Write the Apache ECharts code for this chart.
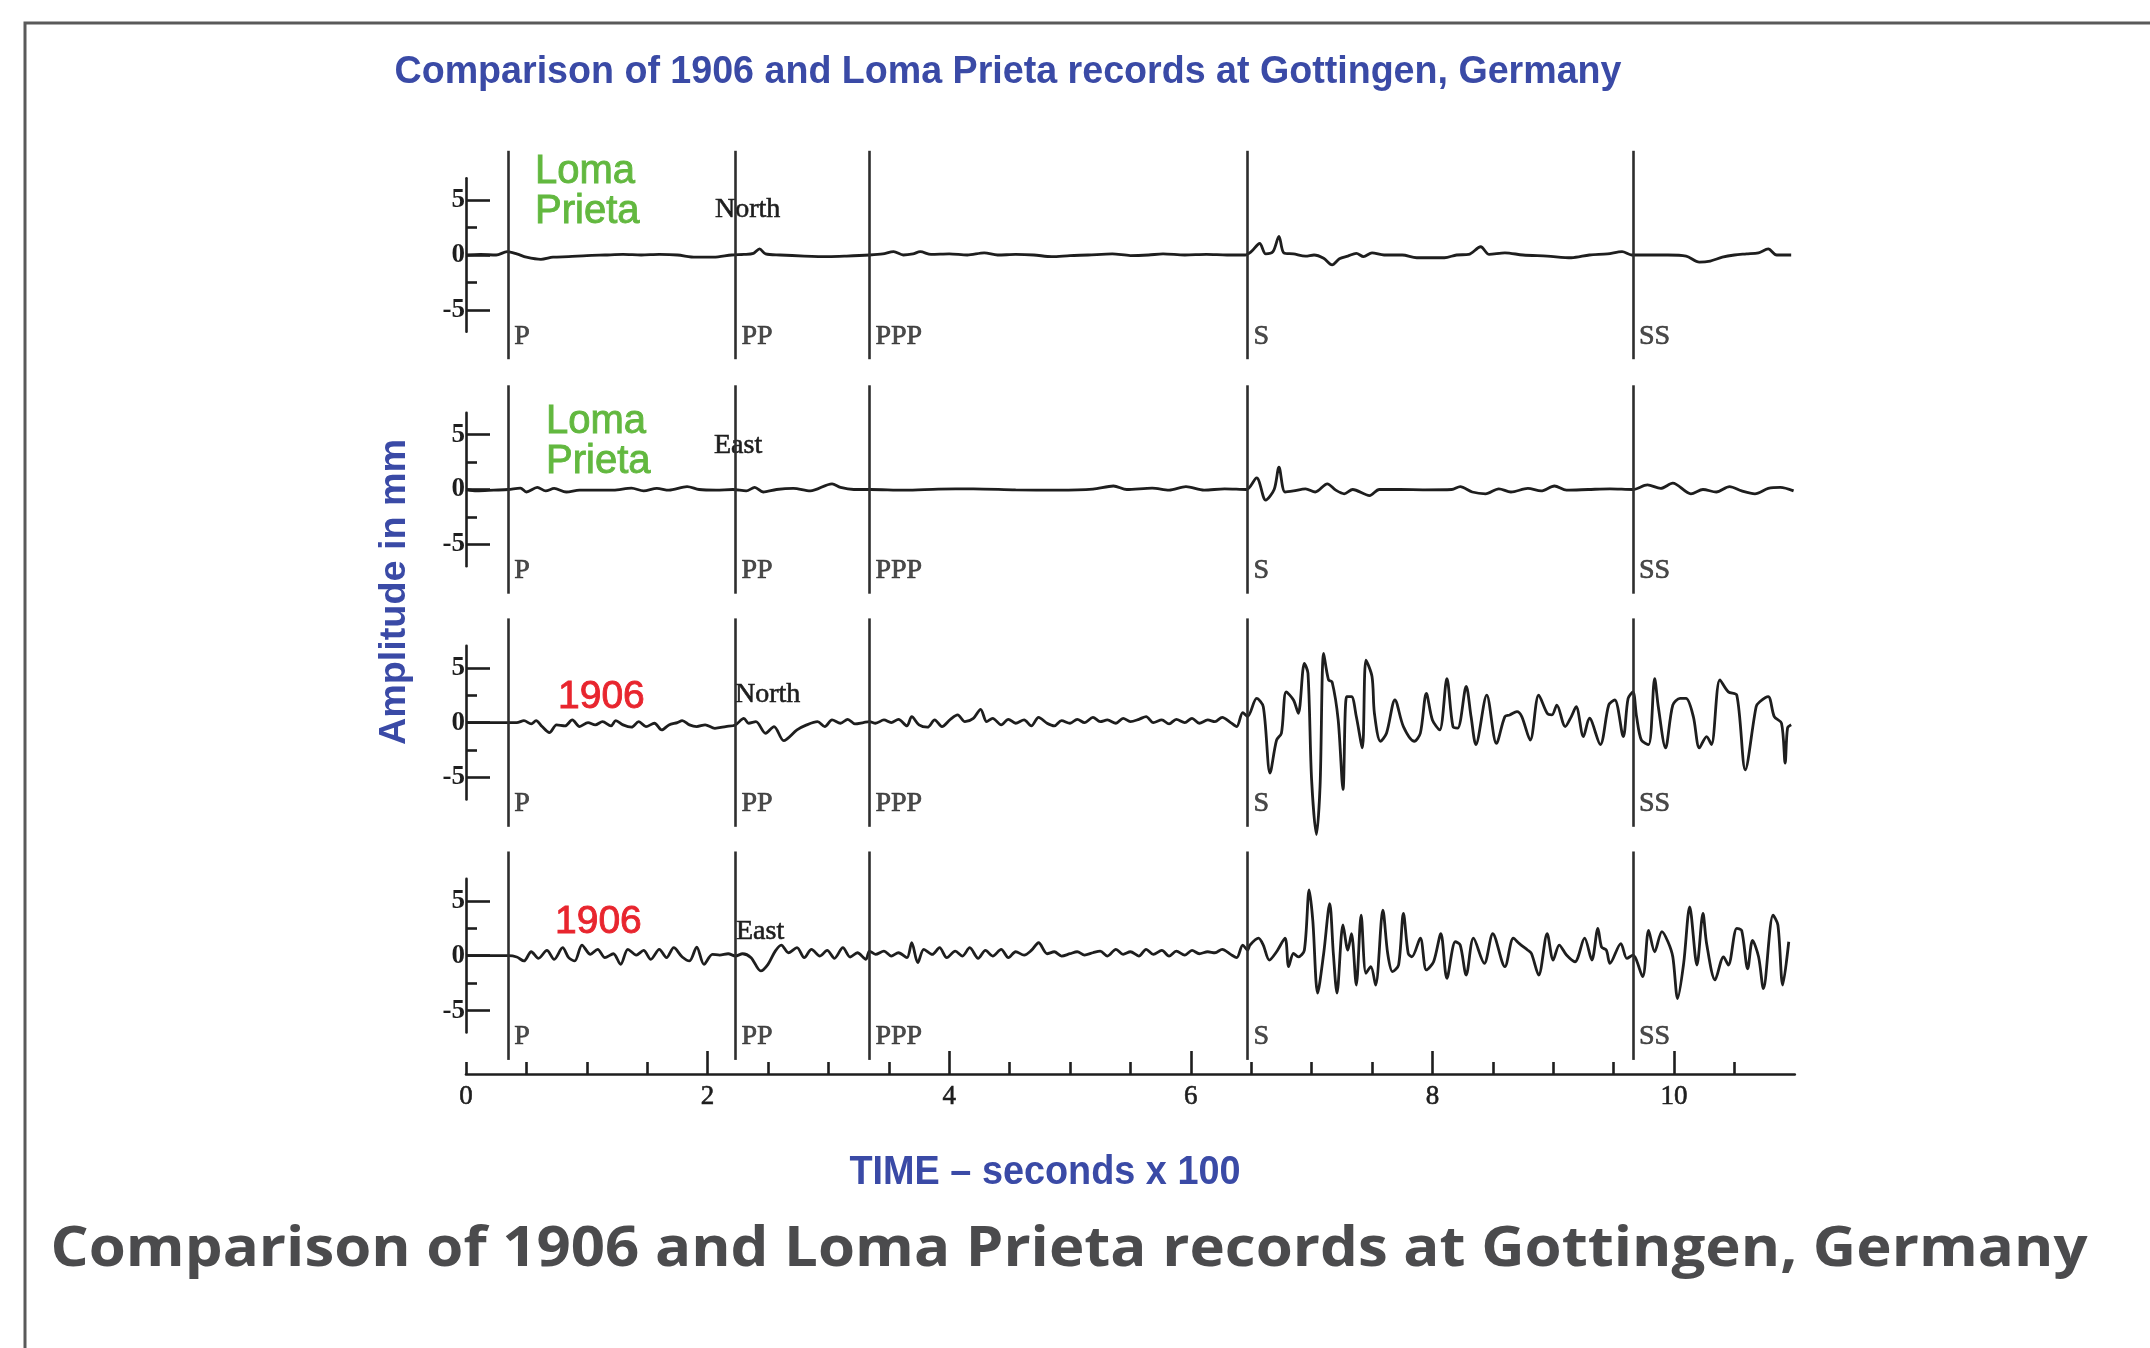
<!DOCTYPE html>
<html>
<head>
<meta charset="utf-8">
<script src="https://cdn.jsdelivr.net/npm/echarts@6/dist/echarts.min.js"></script>
<style>
html,body{margin:0;padding:0;background:#ffffff;}
#chart{width:2150px;height:1348px;}
</style>
</head>
<body>
<div id="chart"></div>
<script>
// ---------------- data ----------------
const xTickLabels = [0, 2, 4, 6, 8, 10];
const xTicksMajor = [2, 4, 6, 8, 10];
const xTicksMinor = [0, 0.5, 1, 1.5, 2.5, 3, 3.5, 4.5, 5, 5.5, 6.5, 7, 7.5, 8.5, 9, 9.5, 10.5];
const yTicksMajor = [-5, 0, 5];
const yTicksMinor = [-2.5, 2.5];
const phaseNames = ['P', 'PP', 'PPP', 'S', 'SS'];
const phaseTimes = [0.35, 2.23, 3.34, 6.47, 9.66];
const rowTitles = ['Loma Prieta', 'Loma Prieta', '1906', '1906'];
const components = ['North', 'East', 'North', 'East'];

const lomaNorth = [[0,0],[0.12,0.05],[0.25,0],[0.34,0.3],[0.42,0.1],[0.5,-0.2],[0.62,-0.4],[0.72,-0.2],[0.85,-0.15],[1.0,-0.05],[1.15,0],[1.3,0.05],[1.45,0],[1.6,0.05],[1.75,0],[1.9,-0.2],[2.05,-0.2],[2.2,0],[2.3,0.05],[2.38,0.15],[2.43,0.55],[2.48,0.1],[2.6,0],[2.8,-0.1],[3.0,-0.15],[3.15,-0.1],[3.34,0],[3.45,0.1],[3.54,0.3],[3.62,0],[3.7,0.1],[3.76,0.3],[3.85,0.05],[4.0,0.1],[4.15,0],[4.29,0.2],[4.4,0],[4.55,0.05],[4.7,0],[4.85,-0.15],[5.0,-0.05],[5.15,0],[5.35,0.1],[5.5,-0.05],[5.65,0],[5.77,0.1],[5.95,0],[6.13,0.05],[6.3,0],[6.45,0],[6.5,0.3],[6.57,1.05],[6.62,0.1],[6.68,0.3],[6.73,1.7],[6.77,0.2],[6.85,0.1],[6.95,-0.1],[7.02,0],[7.1,-0.3],[7.17,-0.9],[7.23,-0.35],[7.3,-0.1],[7.37,0.15],[7.43,-0.15],[7.5,0.2],[7.6,0],[7.75,0],[7.87,-0.25],[8.0,-0.25],[8.1,-0.25],[8.2,0],[8.3,0.05],[8.4,0.75],[8.47,0.05],[8.6,0.2],[8.75,0],[8.95,-0.1],[9.15,-0.25],[9.3,0],[9.45,0.1],[9.57,0.3],[9.65,0],[9.8,0],[9.95,0],[10.1,-0.1],[10.21,-0.65],[10.3,-0.55],[10.4,-0.2],[10.5,0],[10.6,0.1],[10.7,0.2],[10.78,0.55],[10.85,0],[10.97,0]];

const lomaEast = [[0,0],[0.09,-0.13],[0.23,-0.06],[0.35,0],[0.45,0.13],[0.5,-0.23],[0.59,0.19],[0.66,-0.13],[0.73,0.1],[0.83,-0.23],[0.94,-0.06],[1.22,-0.06],[1.37,0.13],[1.47,-0.13],[1.58,0.1],[1.68,-0.06],[1.83,0.26],[1.93,0],[2.07,-0.06],[2.21,0],[2.32,-0.13],[2.39,0.19],[2.46,-0.23],[2.57,0],[2.71,0.1],[2.85,-0.13],[3.03,0.52],[3.1,0.19],[3.21,0],[3.35,0],[3.63,-0.06],[3.91,0.03],[4.2,0.06],[4.55,-0.03],[4.9,-0.06],[5.19,0.03],[5.36,0.32],[5.47,0],[5.68,0.13],[5.82,-0.06],[5.96,0.26],[6.11,-0.06],[6.28,0.06],[6.46,0],[6.545,1.06],[6.62,-0.97],[6.69,0],[6.73,2.03],[6.78,-0.23],[6.85,-0.13],[6.95,0.06],[7.03,-0.23],[7.13,0.52],[7.2,-0.06],[7.27,-0.39],[7.34,0],[7.48,-0.55],[7.56,0],[7.73,0],[7.94,-0.03],[8.16,0],[8.23,0.26],[8.33,-0.23],[8.44,-0.39],[8.55,0.06],[8.65,-0.23],[8.79,0.1],[8.9,-0.13],[9.01,0.32],[9.11,-0.06],[9.29,0],[9.47,0.06],[9.66,0],[9.78,0.42],[9.89,0.1],[9.99,0.58],[10.14,-0.39],[10.24,0],[10.35,-0.23],[10.46,0.26],[10.56,-0.13],[10.67,-0.39],[10.78,0.1],[10.88,0.19],[10.99,-0.13]];

const north1906 = [[0,0],[0.2,0],[0.35,0],[0.42,0],[0.48,0.18],[0.54,-0.12],[0.58,0.18],[0.63,-0.36],[0.69,-0.91],[0.75,-0.21],[0.82,-0.3],[0.88,0.24],[0.94,-0.36],[1.01,0],[1.07,-0.21],[1.13,0.09],[1.2,-0.3],[1.24,0.18],[1.3,-0.21],[1.37,-0.42],[1.43,0.09],[1.49,-0.36],[1.56,-0.06],[1.62,-0.67],[1.68,-0.21],[1.75,0],[1.79,0.18],[1.85,-0.21],[1.91,-0.36],[1.98,-0.21],[2.06,-0.52],[2.15,-0.36],[2.23,-0.21],[2.3,0.39],[2.34,-0.06],[2.4,0.09],[2.48,-0.97],[2.55,-0.36],[2.63,-1.64],[2.74,-0.67],[2.82,-0.21],[2.91,0.09],[2.97,-0.36],[3.03,0.24],[3.1,-0.06],[3.16,0.3],[3.22,-0.12],[3.29,0],[3.34,0.09],[3.39,-0.06],[3.46,0.24],[3.52,0],[3.58,0.3],[3.65,-0.3],[3.69,0.55],[3.75,-0.21],[3.82,-0.42],[3.88,0.24],[3.94,-0.36],[4.01,0.3],[4.07,0.7],[4.13,0.09],[4.2,0.39],[4.26,1.21],[4.31,0.09],[4.36,0.39],[4.43,-0.21],[4.49,0.3],[4.55,-0.06],[4.62,0.24],[4.68,-0.3],[4.74,0.48],[4.81,-0.06],[4.87,-0.3],[4.93,0.18],[5.0,-0.06],[5.06,0.3],[5.12,0],[5.19,0.48],[5.25,0.09],[5.31,0.24],[5.38,-0.06],[5.44,0.39],[5.5,0.09],[5.57,0.3],[5.63,0.55],[5.69,0],[5.76,0.24],[5.82,-0.12],[5.88,0.3],[5.95,0],[6.01,0.39],[6.07,-0.06],[6.14,0.24],[6.2,0.09],[6.26,0.48],[6.33,0],[6.38,-0.36],[6.43,0.91],[6.47,0.55],[6.545,2.2],[6.6,1.45],[6.656,-4.6],[6.71,-1.6],[6.75,-0.97],[6.79,2.8],[6.85,2.06],[6.89,0.85],[6.94,5.4],[6.97,4.5],[7.0,-5.2],[7.04,-10.2],[7.07,-5.8],[7.1,6.3],[7.14,3.9],[7.17,3.7],[7.22,0.24],[7.26,-6.1],[7.29,2.36],[7.33,2.36],[7.37,0.55],[7.42,-2.3],[7.45,5.7],[7.5,4.2],[7.52,0.85],[7.57,-1.7],[7.62,-0.97],[7.69,2.06],[7.76,-0.36],[7.85,-1.7],[7.9,-0.97],[7.95,2.67],[8.0,0.24],[8.06,-0.67],[8.12,4.0],[8.17,-0.36],[8.21,-0.5],[8.28,3.3],[8.32,0.55],[8.36,-2.0],[8.45,2.5],[8.53,-1.9],[8.6,0.55],[8.64,0.7],[8.7,1.0],[8.74,0.55],[8.81,-1.6],[8.88,2.5],[8.95,0.85],[8.99,0.7],[9.03,1.6],[9.1,-0.36],[9.15,0.55],[9.19,1.45],[9.25,-1.27],[9.3,0.4],[9.39,-2.0],[9.46,1.6],[9.51,2.06],[9.58,-1.27],[9.62,2.2],[9.66,2.8],[9.69,0.55],[9.73,-1.6],[9.79,-2.0],[9.84,4.0],[9.87,1.45],[9.93,-2.3],[9.99,1.6],[10.05,2.2],[10.1,2.2],[10.16,0.55],[10.21,-2.3],[10.27,-1.27],[10.31,-2.0],[10.38,3.9],[10.45,2.8],[10.52,2.5],[10.59,-4.3],[10.68,1.45],[10.71,1.9],[10.78,2.36],[10.83,0.55],[10.89,-0.06],[10.92,-3.7],[10.94,-0.5],[10.97,-0.2]];

const east1906 = [[0,0],[0.2,0],[0.35,0],[0.42,-0.12],[0.48,-0.48],[0.54,0.36],[0.6,-0.24],[0.67,0.48],[0.73,-0.33],[0.8,0.73],[0.85,-0.18],[0.9,-0.48],[0.96,0.97],[1.03,0.12],[1.09,0.58],[1.15,-0.18],[1.22,0.18],[1.28,-0.79],[1.34,0.58],[1.41,0.06],[1.47,0.48],[1.53,-0.33],[1.6,0.58],[1.66,-0.18],[1.72,0.73],[1.79,-0.12],[1.85,-0.48],[1.91,0.79],[1.97,-0.79],[2.04,0.12],[2.1,0.06],[2.17,0.18],[2.23,-0.03],[2.29,0.18],[2.36,-0.18],[2.44,-1.39],[2.5,-0.79],[2.56,0.42],[2.61,0.97],[2.67,0.27],[2.74,0.73],[2.8,-0.18],[2.86,0.58],[2.93,-0.03],[2.99,0.48],[3.05,-0.24],[3.12,0.73],[3.18,-0.12],[3.24,0.27],[3.31,-0.33],[3.34,0.42],[3.39,0.12],[3.46,0.42],[3.52,-0.03],[3.58,0.27],[3.65,-0.18],[3.69,1.18],[3.74,-0.64],[3.79,0.58],[3.86,0.12],[3.92,0.73],[3.98,-0.18],[4.05,0.42],[4.11,-0.03],[4.17,0.73],[4.24,-0.24],[4.3,0.48],[4.36,-0.03],[4.43,0.58],[4.49,-0.18],[4.55,0.36],[4.62,0.06],[4.68,0.48],[4.74,1.18],[4.81,0.18],[4.87,0.36],[4.93,-0.03],[5.0,0.18],[5.06,0.36],[5.12,0.06],[5.19,0.27],[5.25,0.42],[5.31,-0.03],[5.38,0.58],[5.44,0.12],[5.5,0.36],[5.57,-0.03],[5.63,0.58],[5.69,0.12],[5.76,0.48],[5.82,-0.03],[5.88,0.42],[5.95,0.06],[6.01,0.48],[6.07,0.18],[6.14,0.36],[6.2,0.27],[6.26,0.58],[6.33,0.12],[6.38,-0.18],[6.43,0.97],[6.47,0.5],[6.49,0.97],[6.56,1.6],[6.6,0.97],[6.65,-0.4],[6.71,0.36],[6.78,1.6],[6.81,-1.0],[6.85,0.2],[6.89,-0.1],[6.94,0.5],[6.98,6.0],[7.01,3.2],[7.05,-3.4],[7.1,0.2],[7.15,4.75],[7.18,0.2],[7.21,-3.4],[7.26,2.8],[7.3,0.5],[7.33,2.0],[7.37,-2.67],[7.41,3.7],[7.45,-1.6],[7.49,-1.0],[7.53,-2.67],[7.59,4.15],[7.63,0.2],[7.67,-1.45],[7.72,-0.85],[7.76,3.85],[7.8,0.2],[7.83,-0.1],[7.9,1.6],[7.95,-1.3],[8.01,-0.55],[8.07,2.0],[8.12,-2.06],[8.19,1.27],[8.23,0.97],[8.28,-1.76],[8.34,1.6],[8.43,-0.7],[8.5,2.0],[8.6,-1.0],[8.67,1.6],[8.72,1.1],[8.79,0.5],[8.82,0.2],[8.88,-1.76],[8.95,2.0],[9.0,-0.4],[9.05,0.97],[9.11,0.06],[9.18,-0.55],[9.26,1.6],[9.32,-0.4],[9.37,2.5],[9.4,0.8],[9.44,0.5],[9.47,-0.7],[9.56,1.1],[9.61,-0.25],[9.66,0.06],[9.74,-1.9],[9.79,2.3],[9.84,0.36],[9.9,2.2],[9.95,1.27],[9.99,-0.1],[10.03,-3.9],[10.08,-0.7],[10.13,4.45],[10.19,-0.85],[10.24,3.85],[10.27,1.1],[10.34,-2.2],[10.41,-0.1],[10.45,-0.85],[10.52,2.5],[10.56,2.3],[10.61,-1.2],[10.65,1.4],[10.7,-0.1],[10.74,-3.0],[10.82,3.7],[10.86,2.8],[10.9,-2.67],[10.95,1.27]];

const traces = [lomaNorth, lomaEast, north1906, east1906];

// ---------------- layout / style ----------------
const X0 = 466, XU = 120.8, XW = 11 * XU;
const U = 10.97;
const BASE = [255, 489.5, 722.6, 955.7];
const AXIS_Y = 1074;
const INK = '#1e1e1e';
const BLUE = '#3a4aa6';
const GREEN = '#62b83f';
const RED = '#e8252e';
const SERIF = '"Liberation Serif", "DejaVu Serif", serif';
const SANS = '"Liberation Sans", Arial, sans-serif';

const measureCtx = document.createElement('canvas').getContext('2d');
function fitScale(text, font, target) {
  measureCtx.font = font;
  return target / measureCtx.measureText(text).width;
}

const grids = [], xAxes = [], yAxes = [], series = [];
for (let r = 0; r < 4; r++) {
  const b = BASE[r];
  grids.push({ left: X0, width: XW, top: b - 7 * U, height: 14 * U });
  grids.push({ left: X0, width: XW, top: b - 9.5 * U, height: 19 * U });
  xAxes.push({ gridIndex: 2 * r, type: 'value', min: 0, max: 11, show: false });
  xAxes.push({ gridIndex: 2 * r + 1, type: 'value', min: 0, max: 11, show: false });
  yAxes.push({
    gridIndex: 2 * r, type: 'value', min: -7, max: 7, position: 'left',
    axisLine: { show: true, onZero: false, lineStyle: { color: INK, width: 2.6 } },
    axisTick: { show: true, inside: true, length: 24, customValues: yTicksMajor, lineStyle: { color: INK, width: 2.6 } },
    axisLabel: { show: true, customValues: yTicksMajor, margin: 1, color: INK, fontFamily: SERIF, fontSize: 27, fontWeight: 'bold' },
    splitLine: { show: false }
  });
  yAxes.push({
    gridIndex: 2 * r, type: 'value', min: -7, max: 7, position: 'left',
    axisLine: { show: false },
    axisTick: { show: true, inside: true, length: 11, customValues: yTicksMinor, lineStyle: { color: INK, width: 2.6 } },
    axisLabel: { show: false },
    splitLine: { show: false }
  });
  yAxes.push({ gridIndex: 2 * r + 1, type: 'value', min: -9.5, max: 9.5, show: false });

  series.push({
    type: 'line', xAxisIndex: 2 * r, yAxisIndex: 3 * r, data: traces[r],
    symbol: 'none', showSymbol: false, clip: false, silent: true, animation: false,
    smooth: 0.3,
    lineStyle: { color: INK, width: 2.8 }, z: 3
  });
  series.push({
    type: 'scatter', xAxisIndex: 2 * r + 1, yAxisIndex: 3 * r + 2,
    data: phaseTimes.map((t, i) => ({ value: [t, -7.4], name: phaseNames[i] })),
    symbolSize: 0, silent: true, animation: false,
    label: { show: true, position: 'right', distance: 6, formatter: '{b}', color: INK, fontFamily: SERIF, fontSize: 28, textBorderColor: INK, textBorderWidth: 0.7 },
    markLine: {
      silent: true, animation: false, symbol: ['none', 'none'],
      label: { show: false },
      lineStyle: { color: '#2e2e2e', width: 2.6, type: 'solid' },
      data: phaseTimes.map(t => ({ xAxis: t }))
    },
    z: 2
  });
}
// bottom time axis
grids.push({ left: X0, width: XW, top: AXIS_Y - 40, height: 40 });
xAxes.push({
  gridIndex: 8, type: 'value', min: 0, max: 11, position: 'bottom',
  axisLine: { show: true, onZero: false, lineStyle: { color: INK, width: 2.6 } },
  axisTick: { show: true, inside: true, length: 23, customValues: xTicksMajor, lineStyle: { color: INK, width: 2.6 } },
  axisLabel: { show: true, customValues: xTickLabels, margin: 9, color: INK, fontFamily: SERIF, fontSize: 27, textBorderColor: INK, textBorderWidth: 0.6 },
  splitLine: { show: false }
});
xAxes.push({
  gridIndex: 8, type: 'value', min: 0, max: 11, position: 'bottom',
  axisLine: { show: false, onZero: false },
  axisTick: { show: true, inside: true, length: 12, customValues: xTicksMinor, lineStyle: { color: INK, width: 2.6 } },
  axisLabel: { show: false },
  splitLine: { show: false }
});
yAxes.push({ gridIndex: 8, type: 'value', min: 0, max: 1, show: false });

// ---------------- text annotations ----------------
const titleText = 'Comparison of 1906 and Loma Prieta records at Gottingen, Germany';
const xName = 'TIME \u2013 seconds x 100';
const yName = 'Amplitude in mm';
const fTitle = 'bold 39px ' + SANS;
const fX = 'bold 40px ' + SANS;
const fY = 'bold 37px ' + SANS;
const fCap = 'bold 55px "Open Sans", "DejaVu Sans", sans-serif';

const graphics = [
  { type: 'rect', shape: { x: 25, y: 23, width: 2300, height: 1500 }, style: { fill: 'none', stroke: '#5a5a5a', lineWidth: 3 }, silent: true },
  { type: 'text', x: 1008, y: 72, scaleX: fitScale(titleText, fTitle, 1227), style: { text: titleText, font: fTitle, fill: BLUE, textAlign: 'center', textVerticalAlign: 'middle' } },
  { type: 'text', x: 1045, y: 1173, scaleX: fitScale(xName, fX, 391), style: { text: xName, font: fX, fill: BLUE, textAlign: 'center', textVerticalAlign: 'middle' } },
  { type: 'text', x: 395, y: 592, rotation: Math.PI / 2, scaleX: fitScale(yName, fY, 306), style: { text: yName, font: fY, fill: BLUE, textAlign: 'center', textVerticalAlign: 'middle' } },
  { type: 'text', x: 1069, y: 1250, scaleX: fitScale(titleText, fCap, 2037), style: { text: titleText, font: fCap, fill: '#4b4b4d', textAlign: 'center', textVerticalAlign: 'middle' } }
];
const rowLabelPos = [[535, 192], [546, 442], [558, 697], [555, 922]];
const compPos = [[715, 210], [714, 446], [735, 695], [736, 932]];
for (let r = 0; r < 4; r++) {
  const isLoma = rowTitles[r].indexOf('Loma') === 0;
  graphics.push({
    type: 'text', x: rowLabelPos[r][0], y: rowLabelPos[r][1],
    style: {
      text: rowTitles[r].split(' ').join('\n'),
      font: (isLoma ? '40px ' : '39px ') + SANS,
      lineHeight: 40,
      fill: isLoma ? GREEN : RED,
      stroke: isLoma ? GREEN : RED, lineWidth: 0.9,
      textAlign: 'left', textVerticalAlign: 'middle'
    }
  });
  graphics.push({
    type: 'text', x: compPos[r][0], y: compPos[r][1],
    style: { text: components[r], font: '28px ' + SERIF, fill: INK, stroke: INK, lineWidth: 0.6, textAlign: 'left', textVerticalAlign: 'middle' }
  });
}

const chart = echarts.init(document.getElementById('chart'));
chart.setOption({
  backgroundColor: '#ffffff',
  animation: false,
  grid: grids,
  xAxis: xAxes,
  yAxis: yAxes,
  series: series,
  graphic: graphics
});
</script>
</body>
</html>
